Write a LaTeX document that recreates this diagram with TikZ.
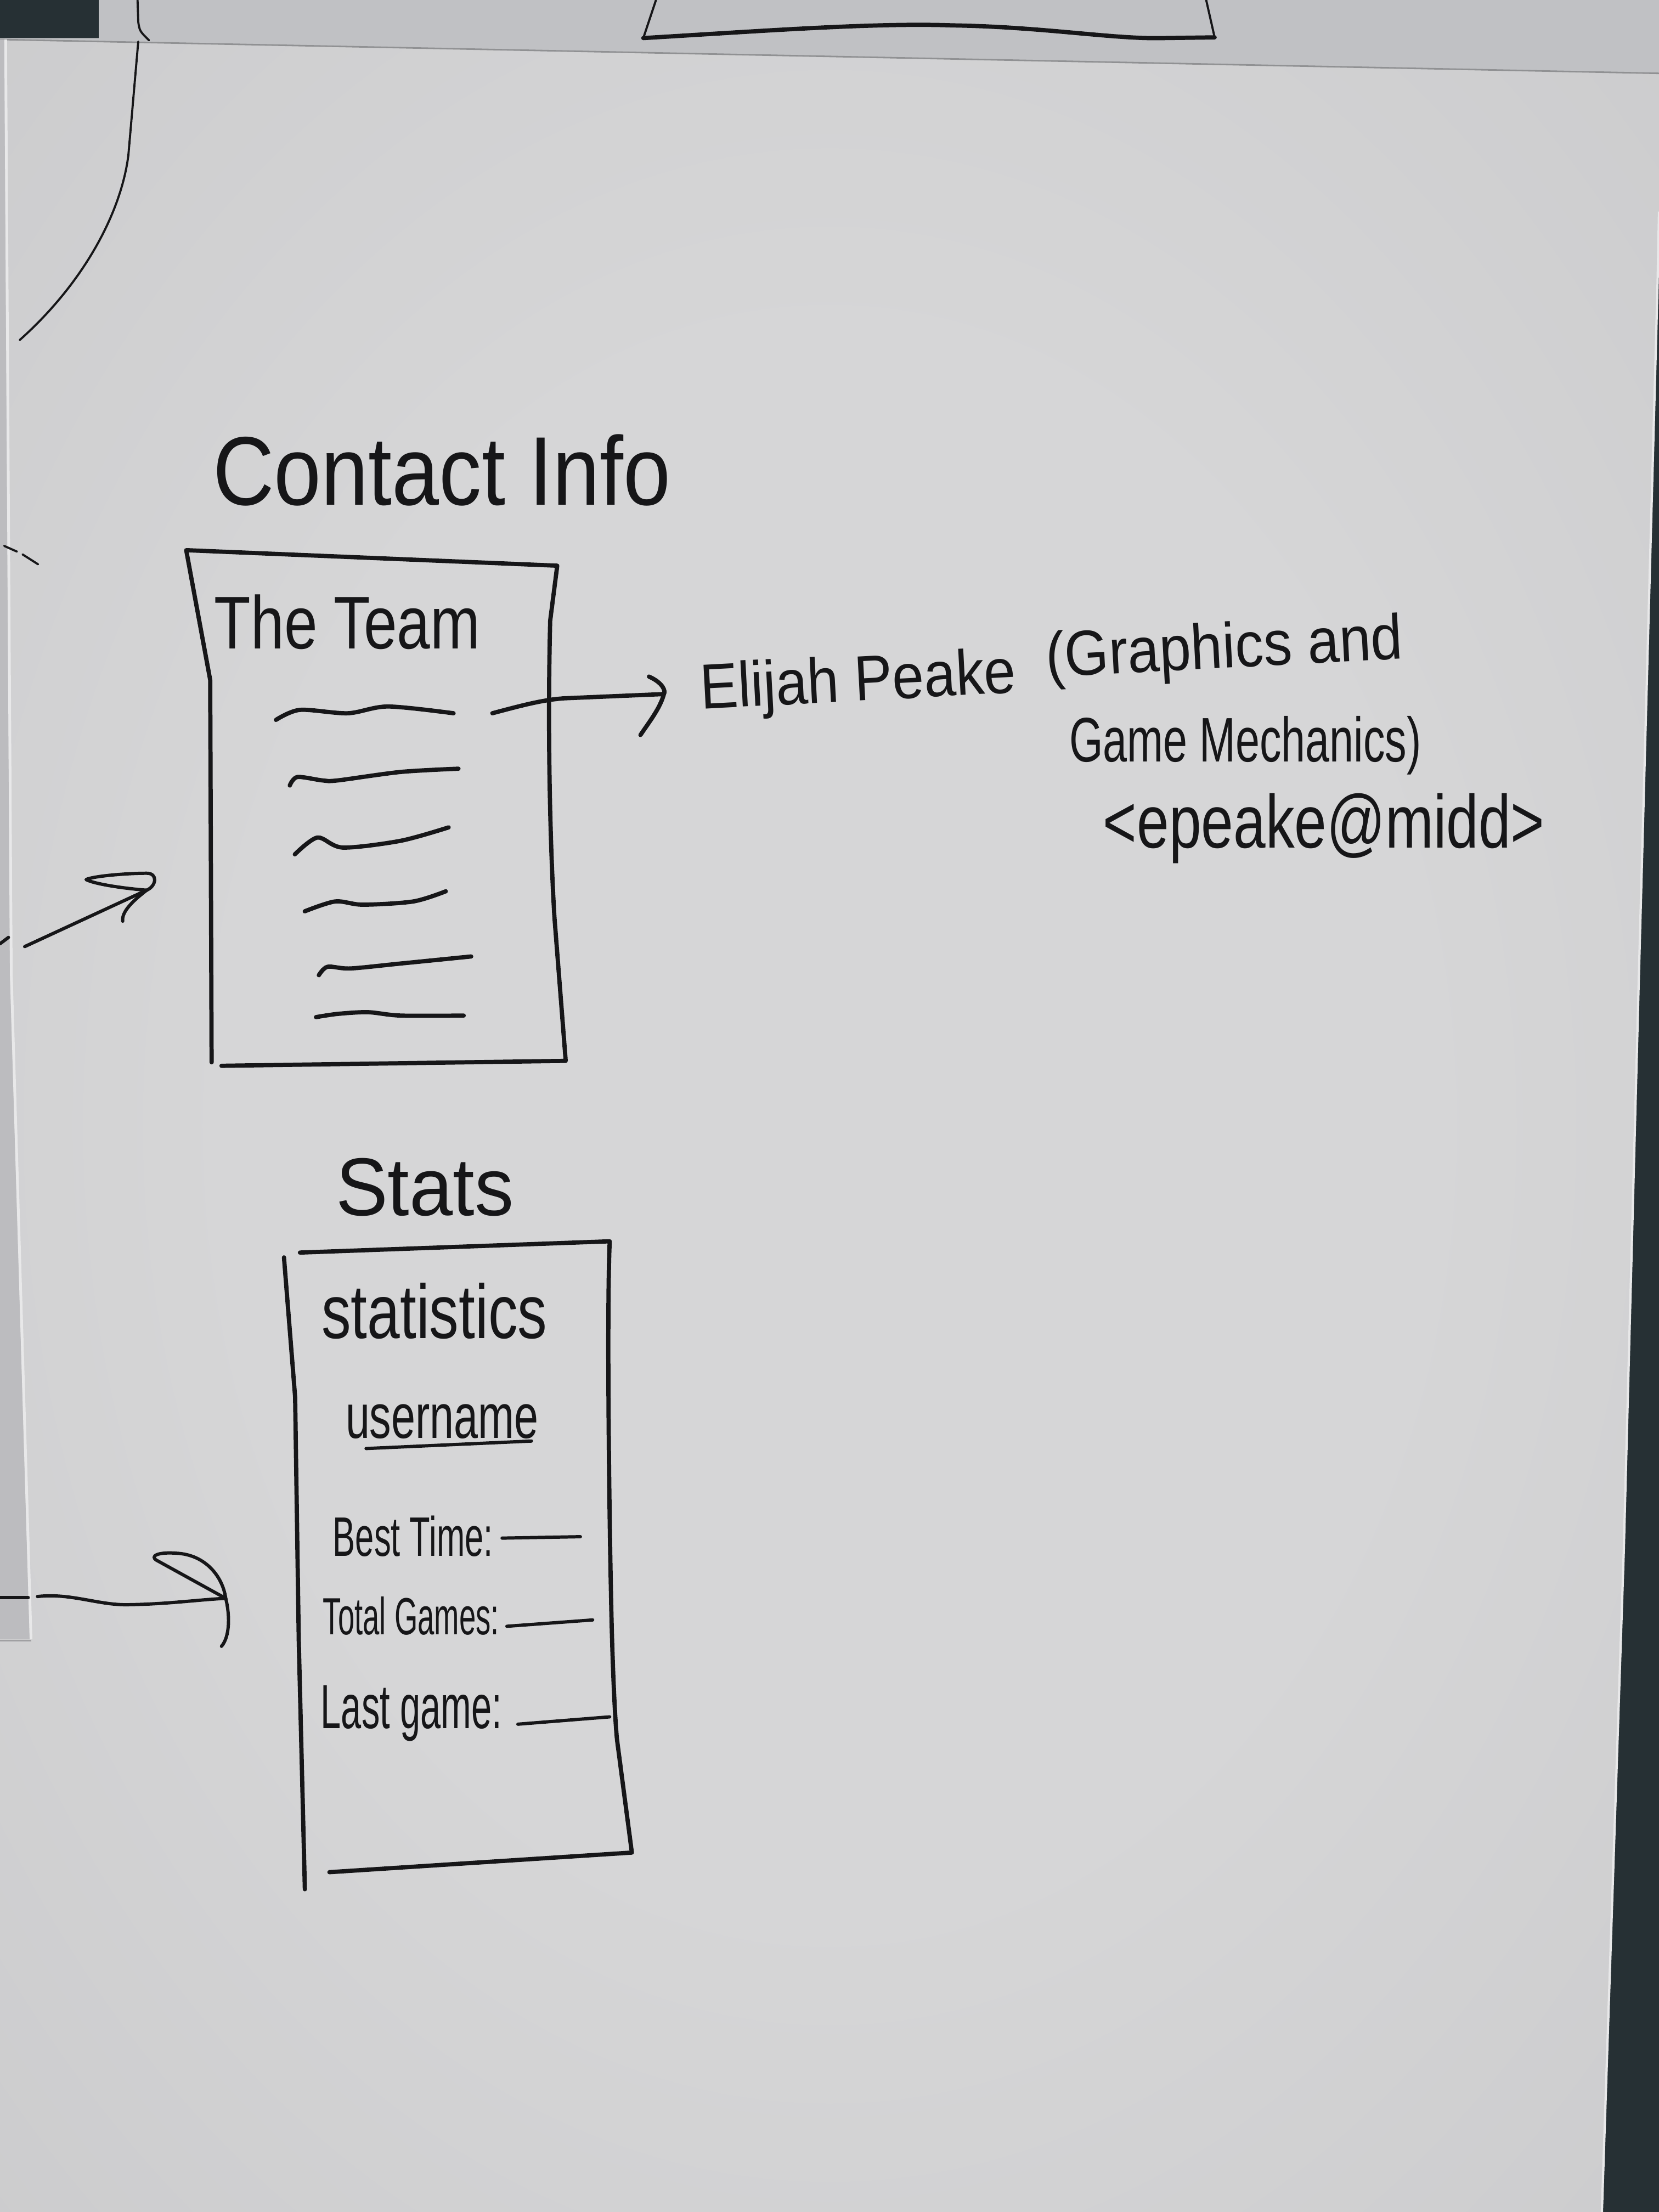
\documentclass[tikz,border=0pt]{standalone}
\usepackage{graphicx}
\usepackage{fontspec}
\setmainfont{Liberation Sans}
\usetikzlibrary{calc}

\definecolor{ink}{RGB}{22,22,24}
\definecolor{paperA}{RGB}{214,214,215}
\definecolor{paperM}{RGB}{199,199,201}
\definecolor{paperB}{RGB}{181,182,185}
\definecolor{prevsheet}{RGB}{192,193,196}
\definecolor{sidesheet}{RGB}{188,188,191}
\definecolor{desk}{RGB}{38,48,52}
\definecolor{edgelight}{RGB}{232,232,233}

\pgfdeclareradialshading{papershade}{\pgfpoint{0bp}{0bp}}{%
  color(0bp)=(paperA); color(18bp)=(paperA); color(45bp)=(paperM);
  color(60bp)=(paperB); color(75bp)=(paperB)}

% vertically stretched handwriting-like text
\newcommand\tallt[2]{\scalebox{1}[#1]{#2}}

\begin{document}
\begin{tikzpicture}[x=0.025714cm, y=-0.025714cm,
  pen/.style={draw=ink, line width=2.2pt, line cap=round, line join=round},
  midpen/.style={draw=ink, line width=1.7pt, line cap=round, line join=round},
  thinpen/.style={draw=ink, line width=1.1pt, line cap=round, line join=round},
  hand/.style={anchor=base west, inner sep=0pt, outer sep=0pt, text=ink},
]
\useasboundingbox (0,0) rectangle (1176,1568);

% desk and the sheets of paper
\fill[desk] (0,0) rectangle (1176,1568);
\fill[prevsheet] (70,0) -- (1176,0) -- (1176,70) -- (0,70) -- (0,27) -- (70,27) -- cycle;
\shade[shading=papershade] (0,28) -- (1176,52) -- (1176,150) -- (1175,200)
  -- (1161.5,700) -- (1151,1100) -- (1135.5,1568) -- (0,1568) -- cycle;
\draw[edgelight, line width=1.2pt] (1176,150) -- (1175,200) -- (1161.5,700)
  -- (1151,1100) -- (1135.5,1568);
\draw[prevsheet!75!black, line width=0.8pt] (0,28) -- (1176,52);
\fill[sidesheet] (0,28) -- (3,28) -- (7,690) -- (21,1162) -- (0,1162) -- cycle;
\draw[edgelight, line width=1.4pt] (4,28) -- (8,690) -- (22,1162);
\draw[sidesheet!85!black, line width=0.8pt] (0,1163) -- (22,1163);

% sketch on the sheet above
\draw[thinpen] (465,0) -- (456,27);
\draw[thinpen] (855,0) -- (861,26.5);
\draw[pen] (456,27) .. controls (540,22) and (620,16) .. (675,18)
  .. controls (740,19) and (790,28) .. (825,27) -- (861,26.5);
\draw[thinpen] (97.5,0) -- (98,15.5) .. controls (99,22) .. (105.6,28.6);

% arc in the upper left corner
\draw[thinpen] (98,29.5) -- (91,110) .. controls (86,150) and (60,200) .. (14,241);
\draw[thinpen] (3,387) -- (12,391);
\draw[thinpen] (16,393) -- (27,400);

% ---- Contact Info ----
\node[hand, font=\fontsize{44}{48}\selectfont] (contact) at (151,358) {\tallt{1.15}{Contact Info}};

\draw[pen] (150,753) -- (149,482) -- (132,390) -- (395,401) -- (390,440)
  .. controls (388,520) and (390,600) .. (393,650) -- (401,752) -- (157,755.5);
\node[hand, font=\fontsize{31}{34}\selectfont] (team) at (152,460) {\tallt{1.25}{The Team}};

\draw[pen] plot[smooth] coordinates {(195.6,510.3) (212.6,503.2) (246.5,505.6) (275,500.8) (321.5,505.6)};
\draw[pen] plot[smooth] coordinates {(205.4,556.8) (210.8,550.8) (228.6,553.2) (239.4,553.2) (284,547.2) (325,544.9)};
\draw[pen] plot[smooth] coordinates {(209,605.6) (225,593.7) (243,600.8) (284,596) (318,586.5)};
\draw[pen] plot[smooth] coordinates {(216,646) (237.6,639) (257.2,641.3) (293,639) (316,631.8)};
\draw[pen] plot[smooth] coordinates {(226,691.3) (232.2,685.3) (248.3,686.5) (284,683) (334,678)};
\draw[pen] plot[smooth] coordinates {(224,721) (239.4,718.7) (260.8,717.5) (284,719.9) (328.7,719.9)};

\node[hand, rotate=3, font=\fontsize{29.5}{32}\selectfont] (elijah) at (497,502.6) {\tallt{1.12}{Elijah Peake}};
\node[hand, rotate=3, font=\fontsize{29.5}{32}\selectfont] (field) at (742,480) {\tallt{1.12}{(Graphics and}};
\node[hand, font=\fontsize{22.5}{25}\selectfont] (role) at (758,540) {\tallt{1.45}{Game Mechanics)}};
\node[hand, font=\fontsize{30}{33}\selectfont] (mail) at (782,601) {\tallt{1.3}{<epeake@midd>}};

% link from the first team member to the details
\coordinate (teamsrc) at (349,505.6);
\coordinate (teamtip) at (470.6,492);
\draw[pen] (teamsrc) .. controls (370,500) and (385,496) .. (400,495) -- (teamtip);
\draw[pen] (460,479.6) .. controls (470,484) and (472,490) .. (teamtip)
  .. controls (468,502) and (460,512) .. (454,521);

% incoming arrow on the left
\coordinate (inA) at (17.5,671);
\coordinate (tipA) at (104,631);
\draw[midpen] (0,669) -- (6,664.5);
\draw[midpen] (inA) -- (tipA);
\draw[midpen] (tipA) .. controls (111,628) and (112,619) .. (104,619)
  .. controls (90,619) and (66,621) .. (61,623.5)
  .. controls (68,627) and (90,630) .. (tipA);
\draw[midpen] (tipA) .. controls (95,638) and (86,646) .. (87,653);

% ---- Stats ----
\node[hand, font=\fontsize{40.5}{44}\selectfont] (stats) at (238,861.5) {\tallt{1.05}{Stats}};

\draw[pen] (216.1,1339.2) -- (211.8,1163.9) -- (209.2,990.3) -- (201.3,891.3);
\draw[pen] (212.6,887.9) -- (432.2,879.9) .. controls (430,930) and (432,1080) .. (433.1,1129.2)
  .. controls (434,1180) and (436,1220) .. (437.4,1233.4) -- (447.9,1313.2) -- (233.5,1327.1);

\node[hand, font=\fontsize{30.5}{33}\selectfont] (statistics) at (228,948.6) {\tallt{1.3}{statistics}};
\node[hand, font=\fontsize{22.5}{25}\selectfont] (user) at (245,1019.5) {\tallt{1.45}{username}};
\draw[midpen] (259.5,1026.8) -- (376.7,1021.5);

\node[hand, font=\fontsize{17.5}{20}\selectfont] (best) at (236,1103) {\tallt{1.65}{Best Time:}};
\draw[midpen] (355.9,1090.3) -- (411.4,1089.3);
\node[hand, font=\fontsize{15.5}{18}\selectfont] (total) at (229,1158.7) {\tallt{1.75}{Total Games:}};
\draw[midpen] (359.3,1152.8) -- (420.1,1148.3);
\node[hand, font=\fontsize{19}{22}\selectfont] (last) at (227.4,1225) {\tallt{1.7}{Last game:}};
\draw[midpen] (367.1,1222.2) -- (432.2,1217);

% incoming arrow toward the stats page
\coordinate (inB) at (26.6,1131.7);
\coordinate (tipB) at (160,1133);
\draw[midpen] (0,1132.5) -- (20,1132.5);
\draw[midpen] (inB) .. controls (50,1129) and (70,1138) .. (91,1137.5)
  .. controls (120,1137) and (140,1134) .. (tipB);
\draw[midpen] (tipB) .. controls (158,1118) and (146,1102) .. (125,1101)
  .. controls (112,1100) and (106,1103) .. (111,1106) -- (tipB);
\draw[midpen] (tipB) .. controls (163,1145) and (163,1160) .. (157,1167);

\end{tikzpicture}
\end{document}
